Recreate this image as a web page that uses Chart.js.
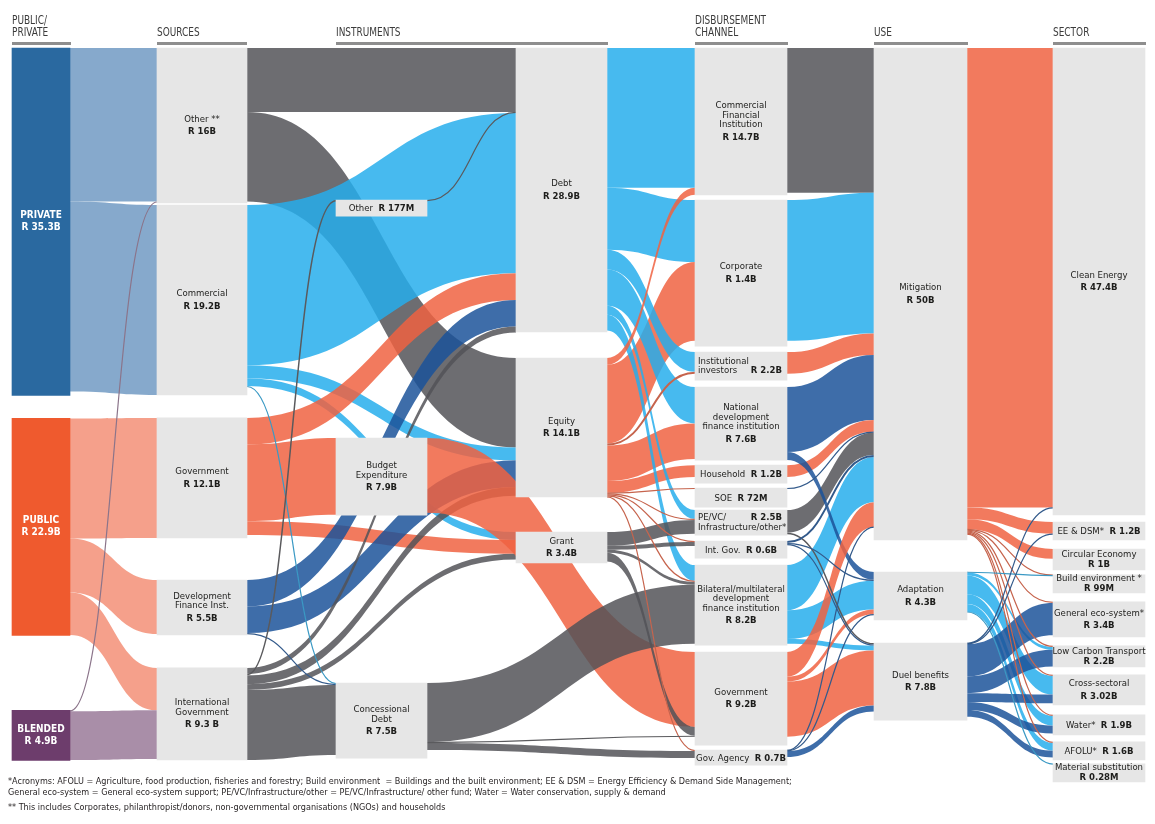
<!DOCTYPE html>
<html>
<head>
<meta charset="utf-8">
<title>Climate finance flows</title>
<script src="https://cdn.jsdelivr.net/npm/chart.js@4.4.1/dist/chart.umd.min.js"></script>
<style>
  html, body { margin: 0; padding: 0; background: #fff; }
  #wrap { position: relative; width: 1155px; height: 824px; overflow: hidden; }
  #chart { position: absolute; left: 0; top: 0; }
  .hdr { position: absolute; top: 15px; font: 12px/11.5px 'Liberation Sans Narrow', 'DejaVu Sans Condensed', sans-serif; color: #3b3b3b; white-space: nowrap; transform: scaleX(0.83); transform-origin: 0 0; }
  .rule { position: absolute; top: 42px; height: 3px; background: #8e8e8e; }
  .note { position: absolute; left: 8px; font: 9px/11px 'Liberation Sans Narrow', 'DejaVu Sans Condensed', sans-serif; color: #231f20; white-space: nowrap; }
</style>
</head>
<body>
<div id="wrap">
  <canvas id="chart" width="1155" height="824"></canvas>

  <div class="hdr" style="left:12px">PUBLIC/<br>PRIVATE</div>
  <div class="hdr" style="left:157px;top:26.5px">SOURCES</div>
  <div class="hdr" style="left:336px;top:26.5px">INSTRUMENTS</div>
  <div class="hdr" style="left:695px">DISBURSEMENT<br>CHANNEL</div>
  <div class="hdr" style="left:874px;top:26.5px">USE</div>
  <div class="hdr" style="left:1053px;top:26.5px">SECTOR</div>
  <div class="rule" style="left:12px;width:59px"></div>
  <div class="rule" style="left:157px;width:90px"></div>
  <div class="rule" style="left:336px;width:272px"></div>
  <div class="rule" style="left:695px;width:93px"></div>
  <div class="rule" style="left:874px;width:94px"></div>
  <div class="rule" style="left:1053px;width:93px"></div>

  <div class="note" style="top:776px">*Acronyms: AFOLU = Agriculture, food production, fisheries and forestry; Build environment &nbsp;= Buildings and the built environment; EE &amp; DSM = Energy Efficiency &amp; Demand Side Management;</div>
  <div class="note" style="top:787px">General eco-system = General eco-system support; PE/VC/Infrastructure/other = PE/VC/Infrastructure/ other fund; Water = Water conservation, supply &amp; demand</div>
  <div class="note" style="top:802px">** This includes Corporates, philanthropist/donors, non-governmental organisations (NGOs) and households</div>
</div>

<script>
// ---- nodes: [id, name, amount label, amount as drawn (R billion)] ----
const publicPrivateNodes = [
  ['private', 'PRIVATE', 'R 35.3B', 35.3],
  ['public', 'PUBLIC', 'R 22.9B', 22.05],
  ['blended', 'BLENDED', 'R 4.9B', 5.08]
];
const sourceNodes = [
  ['srcOther', 'Other **', 'R 16B', 15.75],
  ['srcCommercial', 'Commercial', 'R 19.2B', 19.3],
  ['srcGovernment', 'Government', 'R 12.1B', 12.2],
  ['srcDFI', 'Development\nFinance Inst.', 'R 5.5B', 5.59],
  ['srcIntGov', 'International\nGovernment', 'R 9.3 B', 9.35]
];
const instrumentNodes = [
  ['insOther', 'Other', 'R 177M', 1.63],
  ['insBudget', 'Budget\nExpenditure', 'R 7.9B', 7.83],
  ['insConcessional', 'Concessional\nDebt', 'R 7.5B', 7.62]
];
const instrumentTypeNodes = [
  ['debt', 'Debt', 'R 28.9B', 28.86],
  ['equity', 'Equity', 'R 14.1B', 14.13],
  ['grant', 'Grant', 'R 3.4B', 3.15]
];
const channelNodes = [
  ['chCFI', 'Commercial\nFinancial\nInstitution', 'R 14.7B', 14.94],
  ['chCorporate', 'Corporate', 'R 1.4B', 14.84],
  ['chInstitutional', 'Institutional\ninvestors', 'R 2.2B', 2.85],
  ['chNDFI', 'National\ndevelopment\nfinance institution', 'R 7.6B', 7.42],
  ['chHousehold', 'Household', 'R 1.2B', 1.83],
  ['chSOE', 'SOE', 'R 72M', 1.93],
  ['chPEVC', 'PE/VC/\nInfrastructure/other*', 'R 2.5B', 2.54],
  ['chIntGov', 'Int. Gov.', 'R 0.6B', 1.73],
  ['chBilateral', 'Bilateral/multilateral\ndevelopment\nfinance institution', 'R 8.2B', 8.13],
  ['chGovernment', 'Government', 'R 9.2B', 9.45],
  ['chGovAgency', 'Gov. Agency', 'R 0.7B', 1.52]
];
const useNodes = [
  ['mitigation', 'Mitigation', 'R 50B', 50.0],
  ['adaptation', 'Adaptation', 'R 4.3B', 4.88],
  ['dual', 'Duel benefits', 'R 7.8B', 7.83]
];
const sectorNodes = [
  ['clean', 'Clean Energy', 'R 47.4B', 47.46],
  ['eedsm', 'EE & DSM*', 'R 1.2B', 1.83],
  ['circular', 'Circular Economy', 'R 1B', 2.13],
  ['build', 'Build environment *', 'R 99M', 1.83],
  ['geneco', 'General eco-system*', 'R 3.4B', 3.56],
  ['lct', 'Low Carbon Transport', 'R 2.2B', 2.13],
  ['cross', 'Cross-sectoral', 'R 3.02B', 3.05],
  ['water', 'Water*', 'R 1.9B', 2.03],
  ['afolu', 'AFOLU*', 'R 1.6B', 1.83],
  ['material', 'Material substitution', 'R 0.28M', 1.83]
];

// ---- flows: [from, to, R billion] (drawn in this order) ----
const ownershipFlows = [
  ['private', 'srcOther', 15.6],
  ['private', 'srcCommercial', 19.3],
  ['public', 'srcGovernment', 12.2],
  ['public', 'srcDFI', 5.5],
  ['public', 'srcIntGov', 4.3],
  ['blended', 'srcIntGov', 4.95],
  ['blended', 'srcOther', 0.1]
];
const instrumentFlows = [
  ['srcOther', 'debt', 6.5],
  ['srcOther', 'equity', 9.1],
  ['srcCommercial', 'debt', 16.3],
  ['srcCommercial', 'equity', 1.3],
  ['srcCommercial', 'grant', 0.8],
  ['srcCommercial', 'insConcessional', 0.1],
  ['srcGovernment', 'debt', 2.7],
  ['srcGovernment', 'insBudget', 7.8],
  ['srcGovernment', 'grant', 1.4],
  ['srcDFI', 'debt', 2.7],
  ['srcDFI', 'equity', 2.7],
  ['srcDFI', 'insConcessional', 0.1],
  ['srcIntGov', 'insOther', 0.15],
  ['srcIntGov', 'debt', 0.6],
  ['srcIntGov', 'equity', 0.9],
  ['srcIntGov', 'grant', 0.6],
  ['srcIntGov', 'insConcessional', 7.1],
  ['insOther', 'debt', 0.1]
];
const channelFlows = [
  ['insBudget', 'chGovernment', 7.6],
  ['equity', 'chCorporate', 8.0],
  ['equity', 'chInstitutional', 0.2],
  ['equity', 'chNDFI', 3.6],
  ['equity', 'chHousehold', 1.2],
  ['equity', 'chSOE', 0.07],
  ['equity', 'chPEVC', 0.1],
  ['equity', 'chIntGov', 0.1],
  ['equity', 'chBilateral', 0.1],
  ['equity', 'chGovAgency', 0.1],
  ['debt', 'chCFI', 14.2],
  ['debt', 'chCorporate', 6.3],
  ['debt', 'chInstitutional', 2.0],
  ['debt', 'chNDFI', 3.7],
  ['debt', 'chPEVC', 0.9],
  ['debt', 'chBilateral', 1.6],
  ['equity', 'chCFI', 0.7],
  ['insConcessional', 'chBilateral', 6.0],
  ['insConcessional', 'chGovernment', 0.1],
  ['insConcessional', 'chGovAgency', 0.7],
  ['grant', 'chPEVC', 1.4],
  ['grant', 'chIntGov', 0.4],
  ['grant', 'chBilateral', 0.3],
  ['grant', 'chGovernment', 0.9]
];
const useFlows = [
  ['chCFI', 'mitigation', 14.7],
  ['chCorporate', 'mitigation', 14.3],
  ['chInstitutional', 'mitigation', 2.2],
  ['chNDFI', 'mitigation', 6.6],
  ['chHousehold', 'mitigation', 1.2],
  ['chPEVC', 'mitigation', 2.3],
  ['chPEVC', 'dual', 0.15],
  ['chBilateral', 'mitigation', 4.6],
  ['chBilateral', 'adaptation', 2.9],
  ['chBilateral', 'dual', 0.5],
  ['chNDFI', 'adaptation', 0.8],
  ['chGovernment', 'mitigation', 2.5],
  ['chGovernment', 'adaptation', 0.5],
  ['chGovernment', 'dual', 5.6],
  ['chGovAgency', 'mitigation', 0.05],
  ['chGovAgency', 'adaptation', 0.05],
  ['chGovAgency', 'dual', 0.6],
  ['chIntGov', 'mitigation', 0.2],
  ['chIntGov', 'adaptation', 0.1],
  ['chIntGov', 'dual', 0.1],
  ['chSOE', 'mitigation', 0.07]
];
const sectorFlows = [
  ['mitigation', 'clean', 46.7],
  ['mitigation', 'eedsm', 1.2],
  ['mitigation', 'circular', 1.0],
  ['adaptation', 'lct', 0.3],
  ['adaptation', 'cross', 1.9],
  ['adaptation', 'water', 1.0],
  ['adaptation', 'afolu', 0.8],
  ['dual', 'geneco', 3.3],
  ['dual', 'lct', 1.7],
  ['dual', 'cross', 0.9],
  ['dual', 'water', 0.8],
  ['dual', 'afolu', 0.7],
  ['mitigation', 'build', 0.05],
  ['mitigation', 'geneco', 0.1],
  ['mitigation', 'lct', 0.1],
  ['mitigation', 'cross', 0.1],
  ['mitigation', 'water', 0.1],
  ['mitigation', 'afolu', 0.1],
  ['adaptation', 'build', 0.05],
  ['adaptation', 'material', 0.03],
  ['dual', 'clean', 0.05],
  ['dual', 'eedsm', 0.05]
];

// ---- layout (x in page pixels, gaps in R billion) ----
const columnNodes = [publicPrivateNodes, sourceNodes, instrumentNodes, instrumentTypeNodes, channelNodes, useNodes, sectorNodes];
const columnLeft = [12, 157, 336, 516, 695, 874, 1053];
const columnWidth = [58, 90, 91, 91, 92, 93, 92];
const columnGaps = [
  [0, 2.34, 7.62],
  [0, 0.2, 2.34, 4.27, 3.35],
  [15.45, 22.56, 17.07],
  [0, 2.64, 3.56],
  [0, 0.51, 0.61, 0.71, 0.51, 0.51, 0.3, 0.61, 0.71, 0.71, 0.51],
  [0, 3.25, 2.34],
  [0, 0.71, 0.91, 0.51, 0.91, 0.91, 0.81, 1.02, 0.71, 0.41]
];

// ---- styles ----
const GRAY = '#6e6e71', CYAN = '#47baef', SALMON = '#f27a5e', STEEL = '#3e6ea9';
const nodeFill = { private: '#2a69a0', public: '#ef5a2e', blended: '#6d3d6c' };
const flowColor = {
  private: '#86a9cc', public: '#f5a08b', blended: '#a98ea8',
  srcOther: GRAY, srcCommercial: CYAN, srcGovernment: SALMON, srcDFI: STEEL, srcIntGov: GRAY,
  insOther: GRAY, insBudget: SALMON, insConcessional: GRAY,
  debt: CYAN, equity: SALMON, grant: GRAY,
  chCFI: GRAY, chCorporate: CYAN, chInstitutional: SALMON, chNDFI: STEEL, chHousehold: SALMON,
  chSOE: STEEL, chPEVC: GRAY, chIntGov: STEEL, chBilateral: CYAN, chGovernment: SALMON, chGovAgency: STEEL,
  mitigation: SALMON, adaptation: CYAN, dual: STEEL
};
const inlineLabels = ['insOther', 'chHousehold', 'chSOE', 'chIntGov', 'chGovAgency', 'eedsm', 'water', 'afolu'];
const splitLabels = { chInstitutional: 1, chPEVC: 0 };
const FONT = "'Liberation Sans Narrow', 'DejaVu Sans Condensed', sans-serif";
const FLOW_ALPHA = 0.85;

function hexRgb(h) {
  return [1, 3, 5].map(i => parseInt(h.slice(i, i + 2), 16));
}
// colour that looks like `hex` on white when painted with FLOW_ALPHA
function bandColor(hex) {
  const c = hexRgb(hex).map(v => Math.max(0, Math.round((v - 255 * (1 - FLOW_ALPHA)) / FLOW_ALPHA)));
  return `rgba(${c[0]},${c[1]},${c[2]},${FLOW_ALPHA})`;
}
function lineColor(hex) {
  const c = hexRgb(hex).map(v => Math.round(v * 0.82));
  return `rgb(${c[0]},${c[1]},${c[2]})`;
}

// build node + link geometry in value units
const nodes = {};
columnNodes.forEach((list, c) => {
  let v = 0;
  list.forEach(([id, name, amount, size], i) => {
    v += columnGaps[c][i];
    nodes[id] = { id, name, amount, col: c, top: v, bottom: v + size, outs: [], ins: [] };
    v += size;
  });
});
const links = [...ownershipFlows, ...instrumentFlows, ...channelFlows, ...useFlows, ...sectorFlows]
  .map(([s, t, v]) => ({ s: nodes[s], t: nodes[t], v }));
links.forEach(l => { l.s.outs.push(l); l.t.ins.push(l); });
const mid = n => (n.top + n.bottom) / 2;
Object.values(nodes).forEach(n => {
  let v = n.top;
  n.outs.slice().sort((a, b) => mid(a.t) - mid(b.t)).forEach(l => { l.sy = v; v += l.v; });
  v = n.top;
  n.ins.slice().sort((a, b) => mid(a.s) - mid(b.s)).forEach(l => { l.ty = v; v += l.v; });
});

const sankeyFlows = {
  id: 'sankeyFlows',
  beforeDatasetsDraw(chart) {
    const { ctx, scales: { x, y } } = chart;
    ctx.save();
    const geom = l => {
      const x0 = x.getPixelForValue(columnLeft[l.s.col] + columnWidth[l.s.col]);
      const x1 = x.getPixelForValue(columnLeft[l.t.col]);
      return {
        x0, x1, xm: (x0 + x1) / 2,
        a0: y.getPixelForValue(l.sy), a1: y.getPixelForValue(l.sy + l.v),
        b0: y.getPixelForValue(l.ty), b1: y.getPixelForValue(l.ty + l.v)
      };
    };
    const thin = [];
    links.forEach(l => {
      const g = geom(l);
      if (g.a1 - g.a0 < 2.2) { thin.push([l, g]); return; }
      ctx.fillStyle = bandColor(flowColor[l.s.id]);
      ctx.beginPath();
      ctx.moveTo(g.x0, g.a0);
      ctx.bezierCurveTo(g.xm, g.a0, g.xm, g.b0, g.x1, g.b0);
      ctx.lineTo(g.x1, g.b1);
      ctx.bezierCurveTo(g.xm, g.b1, g.xm, g.a1, g.x0, g.a1);
      ctx.closePath();
      ctx.fill();
    });
    thin.forEach(([l, g]) => {
      const w = Math.max(1.2, g.a1 - g.a0);
      const ya = (g.a0 + g.a1) / 2, yb = (g.b0 + g.b1) / 2;
      ctx.strokeStyle = lineColor(flowColor[l.s.id]);
      ctx.lineWidth = w;
      ctx.beginPath();
      ctx.moveTo(g.x0, ya);
      ctx.bezierCurveTo(g.xm, ya, g.xm, yb, g.x1, yb);
      ctx.stroke();
    });
    ctx.restore();
  },
  afterDatasetsDraw(chart) {
    const { ctx, scales: { x, y } } = chart;
    ctx.save();
    ctx.textBaseline = 'middle';
    const reg = `9.5px ${FONT}`, bold = `bold 9.5px ${FONT}`;
    Object.values(nodes).forEach(n => {
      const left = x.getPixelForValue(columnLeft[n.col]);
      const right = x.getPixelForValue(columnLeft[n.col] + columnWidth[n.col]);
      const cx = (left + right) / 2;
      const top = y.getPixelForValue(n.top), bottom = y.getPixelForValue(n.bottom);
      const cy = (top + bottom) / 2;
      const lines = n.name.split('\n');
      if (n.col === 0) {
        ctx.fillStyle = '#ffffff';
        ctx.font = `bold 10px ${FONT}`;
        ctx.textAlign = 'center';
        ctx.fillText(n.name, cx, cy - 6);
        ctx.fillText(n.amount, cx, cy + 6);
        return;
      }
      ctx.fillStyle = '#1d1d1b';
      if (inlineLabels.includes(n.id)) {
        ctx.font = reg;
        const w1 = ctx.measureText(n.name + '  ').width;
        ctx.font = bold;
        const w2 = ctx.measureText(n.amount).width;
        const sx = cx - (w1 + w2) / 2;
        ctx.textAlign = 'left';
        ctx.font = reg;
        ctx.fillText(n.name + '  ', sx, cy + 0.5);
        ctx.font = bold;
        ctx.fillText(n.amount, sx + w1, cy + 0.5);
        return;
      }
      if (n.id in splitLabels) {
        const y0 = cy - (lines.length - 1) * 9.5 / 2;
        ctx.textAlign = 'left';
        ctx.font = reg;
        lines.forEach((t, i) => ctx.fillText(t, left + 3, y0 + i * 9.5));
        ctx.textAlign = 'right';
        ctx.font = bold;
        ctx.fillText(n.amount, right - 5, y0 + splitLabels[n.id] * 9.5);
        return;
      }
      const gap = bottom - top < 26 ? 10 : 12.5;
      const total = (lines.length - 1) * 9.5 + gap;
      const y0 = cy - total / 2;
      ctx.textAlign = 'center';
      ctx.font = reg;
      lines.forEach((t, i) => ctx.fillText(t, cx, y0 + i * 9.5));
      ctx.font = bold;
      ctx.fillText(n.amount, cx, y0 + total);
    });
    ctx.restore();
  }
};

const datasets = columnNodes.map((list, c) => ({
  data: list.map(([id]) => ({ x: columnLeft[c] + columnWidth[c] / 2, y: [nodes[id].top, nodes[id].bottom] })),
  backgroundColor: list.map(([id]) => nodeFill[id] || '#e6e6e6'),
  borderWidth: 0,
  barThickness: columnWidth[c],
  maxBarThickness: columnWidth[c],
  grouped: false
}));

new Chart(document.getElementById('chart'), {
  type: 'bar',
  data: { datasets },
  options: {
    responsive: false,
    animation: false,
    layout: { padding: 0 },
    plugins: { legend: { display: false }, tooltip: { enabled: false } },
    scales: {
      x: { type: 'linear', min: 0, max: 1155, offset: false, display: false, ticks: { stepSize: 500 } },
      y: { min: -4.88, max: 78.86, reverse: true, display: false }
    }
  },
  plugins: [sankeyFlows]
});
</script>
</body>
</html>
